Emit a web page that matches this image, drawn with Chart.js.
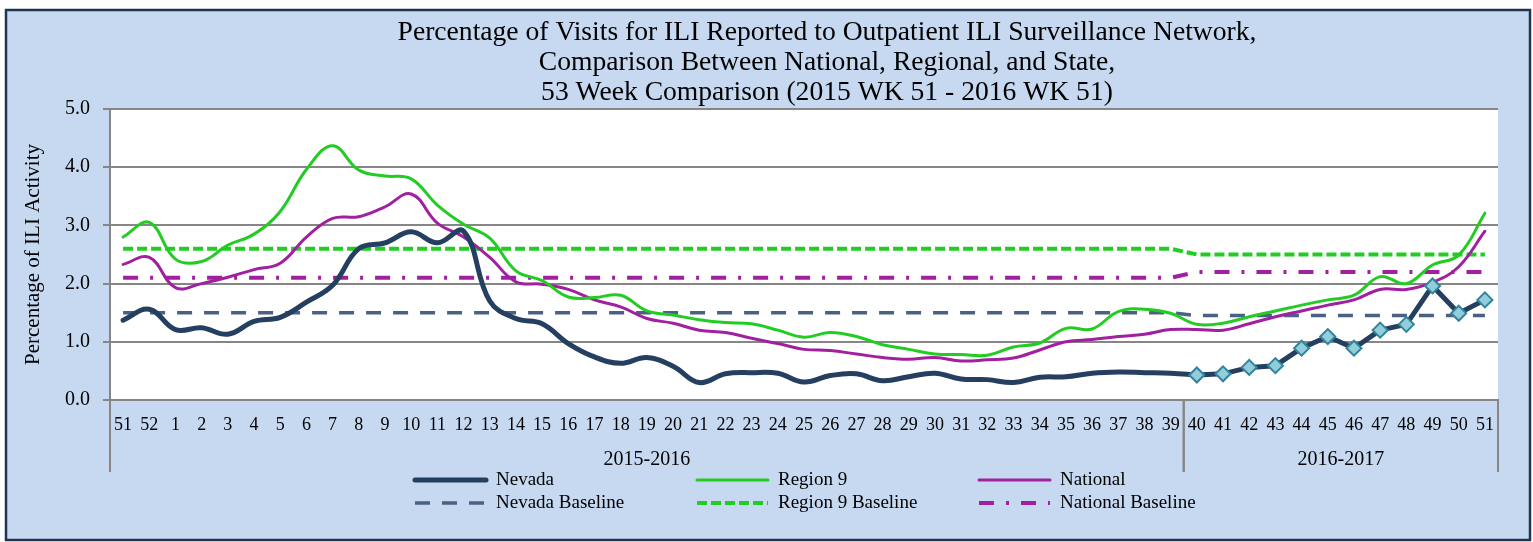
<!DOCTYPE html>
<html>
<head>
<meta charset="utf-8">
<script src="https://cdn.jsdelivr.net/npm/chart.js@4/dist/chart.umd.min.js"></script>
<style>
  html, body { margin: 0; padding: 0; background: #fff; }
  canvas { display: block; }
</style>
</head>
<body>
<canvas id="iliChart" width="1533" height="542"></canvas>
<script>
// week numbers, 2015 wk 51 -> 2016 wk 51
var weeks = ['51', '52', '1', '2', '3', '4', '5', '6', '7', '8', '9', '10', '11', '12', '13', '14', '15', '16', '17', '18',
    '19', '20', '21', '22', '23', '24', '25', '26', '27', '28', '29', '30', '31', '32', '33', '34', '35', '36', '37', '38', '39',
    '40', '41', '42', '43', '44', '45', '46', '47', '48', '49', '50', '51'];
var seasons = ['2015-2016', '2016-2017'];
var seasonSizes = [41, 12];

var nevada = [1.37, 1.56, 1.21, 1.24, 1.13, 1.35, 1.42, 1.68, 1.97, 2.60, 2.70, 2.89, 2.70, 2.90, 1.70, 1.40, 1.31, 0.97, 0.74, 0.63,
    0.73, 0.58, 0.30, 0.45, 0.47, 0.46, 0.31, 0.42, 0.45, 0.33, 0.40, 0.46, 0.36, 0.35, 0.30, 0.39, 0.40, 0.46, 0.48, 0.47, 0.46,
    0.43, 0.45, 0.56, 0.59, 0.89, 1.09, 0.89, 1.20, 1.30, 1.96, 1.49, 1.72];
var region9 = [2.80, 3.05, 2.42, 2.38, 2.66, 2.85, 3.24, 3.96, 4.37, 3.95, 3.85, 3.80, 3.35, 3.02, 2.78, 2.22, 2.05, 1.77, 1.76, 1.80,
    1.53, 1.46, 1.38, 1.33, 1.31, 1.20, 1.08, 1.16, 1.09, 0.95, 0.87, 0.79, 0.78, 0.77, 0.91, 0.98, 1.23, 1.22, 1.52, 1.56, 1.49,
    1.30, 1.32, 1.43, 1.53, 1.63, 1.72, 1.80, 2.12, 2.00, 2.32, 2.49, 3.21];
var national = [2.33, 2.45, 1.93, 2.00, 2.11, 2.24, 2.35, 2.80, 3.12, 3.15, 3.32, 3.54, 3.04, 2.80, 2.45, 2.03, 1.99, 1.90, 1.72, 1.60,
    1.40, 1.32, 1.20, 1.16, 1.06, 0.97, 0.87, 0.85, 0.79, 0.73, 0.70, 0.73, 0.67, 0.69, 0.72, 0.86, 1.00, 1.04, 1.09, 1.13, 1.21,
    1.21, 1.20, 1.31, 1.43, 1.53, 1.63, 1.72, 1.90, 1.90, 2.02, 2.29, 2.90];
var nevadaBase = [1.5, 1.5, 1.5, 1.5, 1.5, 1.5, 1.5, 1.5, 1.5, 1.5, 1.5, 1.5, 1.5, 1.5, 1.5, 1.5, 1.5, 1.5, 1.5, 1.5,
    1.5, 1.5, 1.5, 1.5, 1.5, 1.5, 1.5, 1.5, 1.5, 1.5, 1.5, 1.5, 1.5, 1.5, 1.5, 1.5, 1.5, 1.5, 1.5, 1.5, 1.5,
    1.45, 1.45, 1.45, 1.45, 1.45, 1.45, 1.45, 1.45, 1.45, 1.45, 1.45, 1.45];
var region9Base = [2.6, 2.6, 2.6, 2.6, 2.6, 2.6, 2.6, 2.6, 2.6, 2.6, 2.6, 2.6, 2.6, 2.6, 2.6, 2.6, 2.6, 2.6, 2.6, 2.6,
    2.6, 2.6, 2.6, 2.6, 2.6, 2.6, 2.6, 2.6, 2.6, 2.6, 2.6, 2.6, 2.6, 2.6, 2.6, 2.6, 2.6, 2.6, 2.6, 2.6, 2.6,
    2.5, 2.5, 2.5, 2.5, 2.5, 2.5, 2.5, 2.5, 2.5, 2.5, 2.5, 2.5];
var nationalBase = [2.1, 2.1, 2.1, 2.1, 2.1, 2.1, 2.1, 2.1, 2.1, 2.1, 2.1, 2.1, 2.1, 2.1, 2.1, 2.1, 2.1, 2.1, 2.1, 2.1,
    2.1, 2.1, 2.1, 2.1, 2.1, 2.1, 2.1, 2.1, 2.1, 2.1, 2.1, 2.1, 2.1, 2.1, 2.1, 2.1, 2.1, 2.1, 2.1, 2.1, 2.1,
    2.2, 2.2, 2.2, 2.2, 2.2, 2.2, 2.2, 2.2, 2.2, 2.2, 2.2, 2.2];

var titleLines = [
    'Percentage of Visits for ILI Reported to Outpatient ILI Surveillance Network,',
    'Comparison Between National, Regional, and State,',
    '53 Week Comparison (2015 WK 51 - 2016 WK 51)'
];

var serif = 'Liberation Serif';
var split = seasonSizes[0]; // first week of the new season gets markers

// frame + white plot area
var framePlugin = {
    id: 'frame',
    beforeDraw: function (chart) {
        var c = chart.ctx, a = chart.chartArea;
        c.save();
        c.fillStyle = '#fff';
        c.fillRect(0, 0, chart.width, chart.height);
        c.fillStyle = '#C6D9F1';
        c.fillRect(6, 10, 1524, 530);
        c.strokeStyle = '#1F3552';
        c.lineWidth = 2.5;
        c.strokeRect(6, 10, 1524, 530);
        c.fillStyle = '#fff';
        c.fillRect(a.left, a.top, a.right - a.left, a.bottom - a.top);
        c.restore();
    },
    afterDraw: function (chart) {
        var c = chart.ctx;
        c.save();
        c.fillStyle = '#000';
        c.font = '27.6px "' + serif + '"';
        c.textAlign = 'center';
        c.textBaseline = 'middle';
        titleLines.forEach(function (t, i) {
            c.fillText(t, 827, 33 + i * 30);
        });
        c.restore();
    }
};

// second level of the category axis (season names + separators)
var seasonPlugin = {
    id: 'seasons',
    afterDraw: function (chart) {
        var xs = chart.scales.x, c = chart.ctx;
        var half = (xs.getPixelForTick(1) - xs.getPixelForTick(0)) / 2;
        var start = 0;
        c.save();
        c.strokeStyle = '#868686';
        c.lineWidth = 2;
        c.fillStyle = '#000';
        c.font = '20px "' + serif + '"';
        c.textAlign = 'center';
        c.textBaseline = 'middle';
        seasons.forEach(function (s, k) {
            var end = start + seasonSizes[k] - 1;
            var x0 = xs.getPixelForTick(start) - half;
            var x1 = xs.getPixelForTick(end) + half;
            [x0, x1].forEach(function (x) {
                c.beginPath();
                c.moveTo(x, xs.top);
                c.lineTo(x, 472);
                c.stroke();
            });
            c.fillText(s, (x0 + x1) / 2, 460);
            start = end + 1;
        });
        c.restore();
    }
};

// legend laid out in 3 columns x 2 rows like the original
var legendPlugin = {
    id: 'gridLegend',
    afterDraw: function (chart) {
        var c = chart.ctx;
        var order = [1, 2, 3, 4, 5, 6];
        c.save();
        c.font = '19px "' + serif + '"';
        c.textBaseline = 'middle';
        order.forEach(function (di, n) {
            var ds = chart.data.datasets[di];
            var col = n % 3, row = Math.floor(n / 3);
            var x = 415 + col * 282, y = 480 + row * 23;
            c.strokeStyle = ds.borderColor;
            c.lineWidth = ds.borderWidth;
            c.lineCap = ds.borderDash ? 'butt' : 'round';
            c.setLineDash(ds.borderDash || []);
            c.beginPath();
            c.moveTo(x, y);
            c.lineTo(x + 71, y);
            c.stroke();
            c.setLineDash([]);
            c.fillStyle = '#000';
            c.fillText(ds.label, x + 81, y);
        });
        c.restore();
    }
};

var ctx = document.getElementById('iliChart');
var myChart = new Chart(ctx, {
    type: 'line',
    plugins: [framePlugin, seasonPlugin, legendPlugin],
    data: {
        labels: weeks,
        datasets: [
            {
                label: 'Nevada',
                data: nevada.map(function (v, i) { return i >= split ? v : null; }),
                borderColor: '#243F60',
                borderWidth: 5,
                tension: 0,
                pointStyle: 'rectRot',
                pointRadius: 7.5,
                pointBackgroundColor: '#92CDDC',
                pointBorderColor: '#31849B',
                pointBorderWidth: 2,
            },
            {
                label: 'Nevada',
                data: nevada.map(function (v, i) { return i <= split ? v : null; }),
                borderColor: '#243F60',
                borderWidth: 5,
                tension: 0.4,
            },
            {
                label: 'Region 9',
                data: region9,
                borderColor: '#22CC22',
                borderWidth: 3,
                tension: 0.4,
            },
            {
                label: 'National',
                data: national,
                borderColor: '#A020A0',
                borderWidth: 3,
                tension: 0.4,
            },
            {
                label: 'Nevada Baseline',
                data: nevadaBase,
                borderColor: '#4A6184',
                borderWidth: 3.5,
                borderDash: [15, 12],
                borderCapStyle: 'butt',
            },
            {
                label: 'Region 9 Baseline',
                data: region9Base,
                borderColor: '#22CC22',
                borderWidth: 4,
                borderDash: [10, 4],
                borderCapStyle: 'butt',
            },
            {
                label: 'National Baseline',
                data: nationalBase,
                borderColor: '#A020A0',
                borderWidth: 4,
                borderDash: [15, 12, 3, 12],
                borderCapStyle: 'butt',
            },
        ]
    },
    options: {
        responsive: false,
        animation: false,
        events: [],
        layout: {
            padding: { top: 109, right: 35, bottom: 0, left: 0 },
        },
        elements: {
            point: { radius: 0 },
            line: { borderCapStyle: 'round', borderJoinStyle: 'round' },
        },
        plugins: {
            legend: { display: false },
            title: { display: false },
            tooltip: { enabled: false },
        },
        scales: {
            x: {
                offset: true,
                grid: { display: false, drawTicks: false },
                border: { display: true, color: '#868686', width: 2 },
                ticks: {
                    autoSkip: false,
                    maxRotation: 0,
                    minRotation: 0,
                    padding: 14,
                    color: '#000',
                    font: { family: serif, size: 18 },
                },
                afterFit: function (s) { s.height = 142; },
            },
            y: {
                min: 0,
                max: 5,
                ticks: {
                    stepSize: 1,
                    padding: 13,
                    color: '#000',
                    font: { family: serif, size: 20 },
                    callback: function (v) { return v.toFixed(1); },
                },
                grid: { color: '#868686', lineWidth: 2, tickLength: 7 },
                border: { color: '#868686', width: 2 },
                title: {
                    display: true,
                    text: 'Percentage of ILI Activity',
                    color: '#000',
                    font: { family: serif, size: 21 },
                    padding: { top: 21, bottom: 0 },
                },
                afterFit: function (s) { s.width = 110; },
            },
        },
    },
});
</script>
</body>
</html>
